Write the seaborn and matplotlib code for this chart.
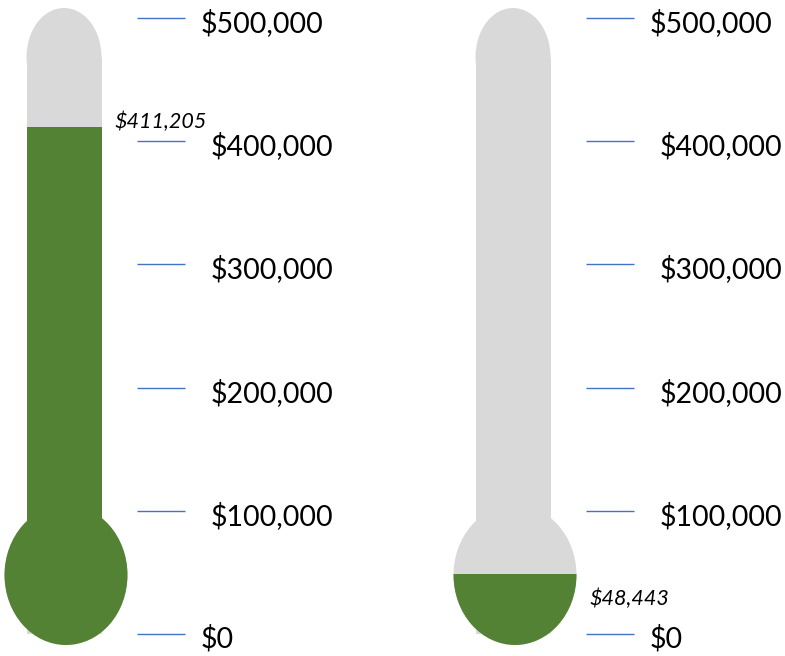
import numpy as np
import pandas as pd
import matplotlib
matplotlib.use("Agg")
import matplotlib.pyplot as plt
from matplotlib.patches import Ellipse, Rectangle
import seaborn as sns

# ---- data ----
thermometers = ["Campaign A", "Campaign B"]
raised = [411205, 48443]
axis_max = 500000
tick_values = [0, 100000, 200000, 300000, 400000, 500000]
tick_labels = ["$0", "$100,000", "$200,000", "$300,000", "$400,000", "$500,000"]
value_labels = ["$411,205", "$48,443"]

GRAY = "#D9D9D9"
GREEN = "#548235"
BLUE = "#4472C4"

sns.set_theme(style="white")
plt.rcParams["font.family"] = ["Lato", "DejaVu Sans"]

W, H, DPI = 785, 656, 100
fig = plt.figure(figsize=(W / DPI, H / DPI), dpi=DPI)
ax = fig.add_axes([0, 0, 1, 1])

# pixel geometry -> data scales
px_unit = 449.0              # pixels per category step
x0_px = 64.0                 # first tube centre (pixels)
y0_px, y500_px = 634.0, 18.0 # pixel rows of $0 and $500,000
val_per_px = axis_max / (y0_px - y500_px)

def px_to_val(py):
    return (y0_px - py) * val_per_px

tube_w = 75 / px_unit
dome_base = px_to_val(57)
dome_h = 98 * val_per_px
bulb_cy = px_to_val(575)
bulb_h = 140 * val_per_px
bulb_w = 123 / px_unit

df_track = pd.DataFrame({"name": thermometers, "v": [dome_base] * len(thermometers)})
df_fill = pd.DataFrame({"name": thermometers, "v": raised})

sns.barplot(data=df_track, x="name", y="v", color=GRAY, width=tube_w,
            saturation=1, ax=ax, zorder=1, linewidth=0)
n_track = len(ax.patches)
sns.barplot(data=df_fill, x="name", y="v", color=GREEN, width=tube_w,
            saturation=1, ax=ax, zorder=2, linewidth=0)
fill_bars = ax.patches[n_track:]
ax.set_xlim(-x0_px / px_unit, (W - x0_px) / px_unit)
ax.set_ylim(-(H - y0_px) * val_per_px, axis_max + y500_px * val_per_px)

for i, bar in enumerate(fill_bars):
    clip = Rectangle((i - 0.5, bulb_cy), 1, 1e7, transform=ax.transData)
    bar.set_clip_path(clip)

label_dx = [137, 147, 147, 147, 147, 137]
for i, val in enumerate(raised):
    # dome on top of tube
    ax.add_patch(Ellipse((i, dome_base), tube_w, dome_h, color=GRAY, lw=0, zorder=1))
    # bulb
    ax.add_patch(Ellipse((i + 2 / px_unit, bulb_cy), bulb_w, bulb_h, color=GRAY, lw=0, zorder=1.5))
    g = Ellipse((i + 2 / px_unit, bulb_cy), bulb_w, bulb_h, color=GREEN, lw=0, zorder=3)
    ax.add_patch(g)
    g.set_clip_path(Rectangle((i - 0.5, -1e7), 1, 1e7 + val, transform=ax.transData))

    # scale ticks
    ax.hlines(tick_values, i + 73 / px_unit, i + 121 / px_unit, color=BLUE, lw=1, zorder=4)
    for tv, tl, dx in zip(tick_values, tick_labels, label_dx):
        ax.text(i + dx / px_unit, tv - 5 * val_per_px, tl, fontsize=20.5,
                va="center", ha="left", color="black")

# value labels
lab_dx = [51, 77]
lab_dy = [6, -25]
for i, (val, lab) in enumerate(zip(raised, value_labels)):
    ax.text(i + lab_dx[i] / px_unit, val + lab_dy[i] * val_per_px, lab, fontsize=15.5,
            style="italic", va="center", ha="left", color="black")

ax.axis("off")
fig.savefig("out.png", dpi=DPI)
